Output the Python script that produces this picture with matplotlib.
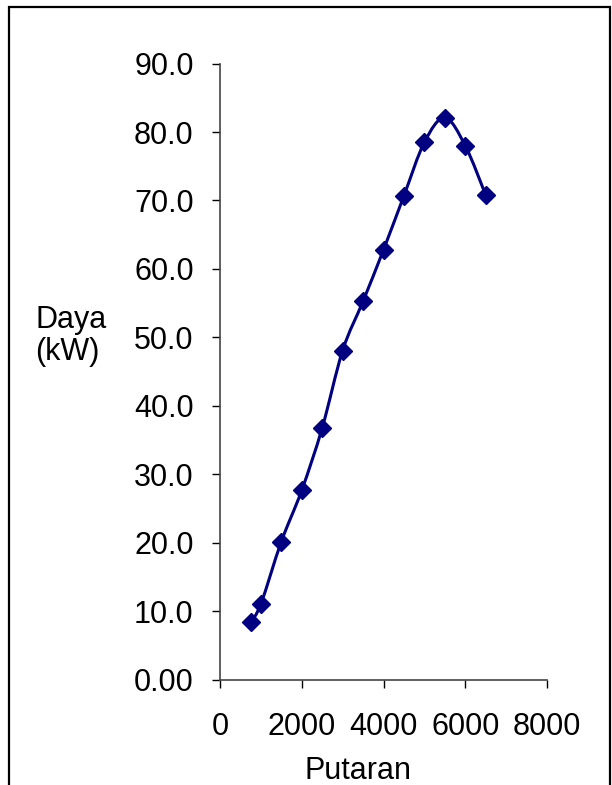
import numpy as np
import matplotlib
matplotlib.use("Agg")
import matplotlib.pyplot as plt
from matplotlib.path import Path
from matplotlib.patches import PathPatch, Rectangle

plt.rcParams['font.family'] = ['Liberation Sans', 'DejaVu Sans']

# data
putaran = [750, 1000, 1500, 2000, 2500, 3000, 3500, 4000, 4500, 5000, 5500, 6000, 6500]
daya = [8.4, 11.1, 20.2, 27.7, 36.8, 48.1, 55.3, 62.8, 70.7, 78.5, 82.1, 78.0, 70.8]
y_ticks = [0, 10, 20, 30, 40, 50, 60, 70, 80, 90]
y_labels = ['0.00', '10.0', '20.0', '30.0', '40.0', '50.0', '60.0', '70.0', '80.0', '90.0']
x_ticks = [0, 2000, 4000, 6000, 8000]

navy = '#000080'
fs = 22

fig = plt.figure(figsize=(6.12, 7.85), dpi=100)
ax = fig.add_axes([0.3595, 0.1338, 0.5343, 0.7853])

# smoothed line like excel (catmull-rom bezier)
pts = np.column_stack([putaran, daya]).astype(float)
verts = [pts[0]]
codes = [Path.MOVETO]
n = len(pts)
for i in range(n - 1):
    p0 = pts[max(i - 1, 0)]
    p1 = pts[i]
    p2 = pts[i + 1]
    p3 = pts[min(i + 2, n - 1)]
    c1 = p1 + (p2 - p0) / 6.0
    c2 = p2 - (p3 - p1) / 6.0
    verts += [c1, c2, p2]
    codes += [Path.CURVE4] * 3
ax.add_patch(PathPatch(Path(verts, codes), fill=False, edgecolor=navy, lw=2.2, zorder=2))
ax.plot(putaran, daya, linestyle='none', marker='D', markersize=9,
        color=navy, zorder=3)

ax.set_xlim(0, 8000)
ax.set_ylim(0, 90)
ax.set_xticks(x_ticks)
ax.set_yticks(y_ticks)
ax.set_yticklabels(y_labels)
ax.tick_params(axis='both', direction='out', length=6, width=1, labelsize=fs, colors='black')
ax.tick_params(axis='y', pad=13)
ax.tick_params(axis='x', pad=17)
for s in ['top', 'right']:
    ax.spines[s].set_visible(False)
for s in ['left', 'bottom']:
    ax.spines[s].set_color('#444444')
    ax.spines[s].set_linewidth(1.2)

fig.text(35 / 612, 1 - 336 / 785, 'Daya\n(kW)', fontsize=fs, ha='left', va='center',
         linespacing=1.1)
fig.text(358 / 612, 1 - 771 / 785, 'Putaran', fontsize=fs, ha='center', va='center')

# outer frame, bottom edge falls outside the picture
fig.patches.append(Rectangle((9 / 612, -0.05), 601 / 612, 1.05 - 6.5 / 785,
                             transform=fig.transFigure, fill=False,
                             edgecolor='black', lw=1.6))

fig.savefig('out.png', dpi=100)
